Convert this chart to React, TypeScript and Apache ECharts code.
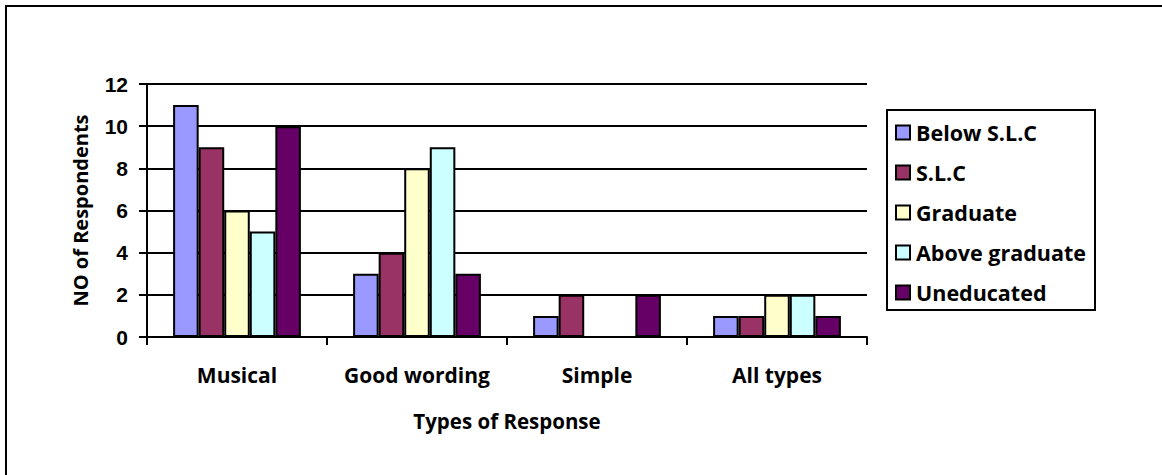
import React, { useEffect, useRef } from "react";
import * as echarts from "echarts";

const categories = ["Musical", "Good wording", "Simple", "All types"];
const seriesNames = ["Below S.L.C", "S.L.C", "Graduate", "Above graduate", "Uneducated"];
const belowSLC = [11, 3, 1, 1];
const slc = [9, 4, 2, 1];
const graduate = [6, 8, 0, 2];
const aboveGraduate = [5, 9, 0, 2];
const uneducated = [10, 3, 2, 1];
const colors = ["#9999FF", "#993366", "#FFFFCC", "#CCFFFF", "#660066"];

const FONT = "Open Sans";

export default function App() {
  const ref = useRef<HTMLDivElement>(null);
  useEffect(() => {
    if (!ref.current) return;
    const chart = echarts.init(ref.current, undefined, { renderer: "svg" });
    const values = [belowSLC, slc, graduate, aboveGraduate, uneducated];
    chart.setOption({
      animation: false,
      backgroundColor: "#ffffff",
      grid: { left: 147, right: 295, top: 84, bottom: 138 },
      graphic: [
        {
          type: "rect",
          shape: { x: 6, y: 6, width: 1200, height: 500 },
          style: { fill: "none", stroke: "#000", lineWidth: 2 },
          silent: true,
        },
        {
          type: "rect",
          shape: { x: 887, y: 110, width: 208, height: 200 },
          style: { fill: "#fff", stroke: "#000", lineWidth: 2 },
          silent: true,
          z: 0,
        },
      ],
      legend: {
        orient: "vertical",
        left: 885,
        top: 121,
        padding: [0, 0, 0, 10],
        itemGap: 17,
        itemWidth: 14,
        itemHeight: 14,
        icon: "rect",
        z: 10,
        textStyle: {
          fontFamily: FONT,
          fontWeight: "bold",
          fontSize: 21.5,
          color: "#000",
          lineHeight: 23,
          padding: [0, 0, 0, 1],
        },
        data: seriesNames,
      },
      xAxis: {
        type: "category",
        data: categories,
        axisLine: { show: true, lineStyle: { color: "#000", width: 2 } },
        axisTick: { show: true, length: 8, interval: 0, lineStyle: { color: "#000", width: 2 } },
        axisLabel: {
          interval: 0,
          fontFamily: FONT,
          fontWeight: "bold",
          fontSize: 21,
          color: "#000",
          margin: 27,
        },
        name: "Types of Response",
        nameLocation: "middle",
        nameGap: 73,
        nameTextStyle: { fontFamily: FONT, fontWeight: "bold", fontSize: 20.5, color: "#000" },
      },
      yAxis: {
        type: "value",
        min: 0,
        max: 12,
        interval: 2,
        axisLine: { show: true, lineStyle: { color: "#000", width: 2 } },
        axisTick: { show: true, length: 8, lineStyle: { color: "#000", width: 2 } },
        splitLine: { show: true, lineStyle: { color: "#000", width: 2 } },
        axisLabel: {
          fontFamily: "Liberation Sans",
          fontWeight: "bold",
          fontSize: 21,
          color: "#000",
          margin: 19,
        },
        name: "NO of Respondents",
        nameLocation: "middle",
        nameGap: 57,
        nameTextStyle: { fontFamily: FONT, fontWeight: "bold", fontSize: 20, color: "#000" },
      },
      series: seriesNames.map((name, i) => ({
        name,
        type: "bar",
        data: values[i],
        barGap: "0%",
        barCategoryGap: "29%",
        itemStyle: { color: colors[i], borderColor: "#000", borderWidth: 2 },
      })),
    });
    return () => chart.dispose();
  }, []);
  return (
    <div
      ref={ref}
      style={{ position: "fixed", left: 0, top: 0, width: 1162, height: 475 }}
    />
  );
}
